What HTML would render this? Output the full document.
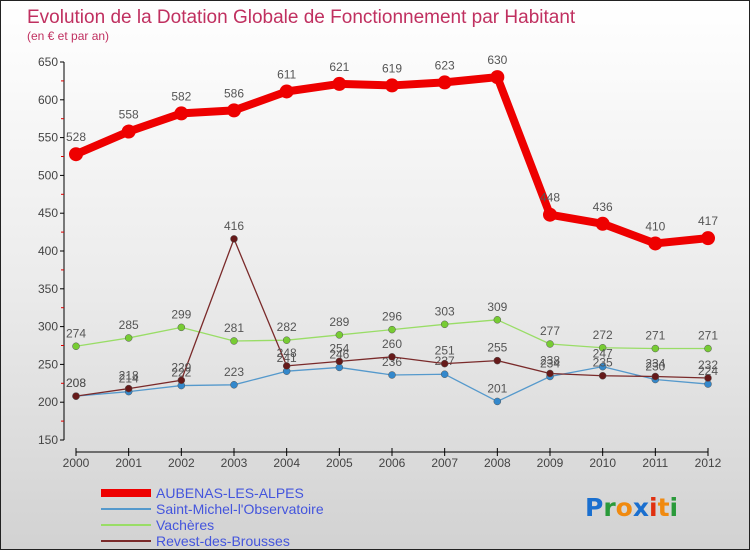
<!DOCTYPE html>
<html><head><meta charset="utf-8">
<style>
body{margin:0;width:750px;height:550px;overflow:hidden;font-family:"Liberation Sans","DejaVu Sans",sans-serif;}
#wrap{position:relative;width:748px;height:548px;border:1px solid #222;background:linear-gradient(#ffffff 0%,#ececec 50%,#d2d2d2 100%);}
</style></head>
<body>
<div id="wrap">
<svg id="chart" width="748" height="548" xmlns="http://www.w3.org/2000/svg">
<text x="26" y="22" font-size="19" fill="#c03060">Evolution de la Dotation Globale de Fonctionnement par Habitant</text>
<text x="26" y="39" font-size="12" fill="#c03060">(en € et par an)</text>
<g id="axes"></g>
<g id="series"></g>
<g id="legend"></g>
<text x="584" y="515" font-size="25" font-family="'DejaVu Sans',sans-serif" font-weight="bold"><tspan fill="#1a6fcf">P</tspan><tspan fill="#2a9a3a">r</tspan><tspan fill="#f08a10">o</tspan><tspan fill="#1a6fcf">x</tspan><tspan fill="#e03010">i</tspan><tspan fill="#f08a10">t</tspan><tspan fill="#2a9a3a">i</tspan></text>
</svg>
</div>
<script>
const years=["2000","2001","2002","2003","2004","2005","2006","2007","2008","2009","2010","2011","2012"];
const aubenas=[528,558,582,586,611,621,619,623,630,448,436,410,417];
const saintMichel=[208,214,222,223,241,246,236,237,201,234,247,230,224];
const vacheres=[274,285,299,281,282,289,296,303,309,277,272,271,271];
const revest=[208,218,229,416,248,254,260,251,255,238,235,234,232];
const yTicks=[150,200,250,300,350,400,450,500,550,600,650];
const seriesNames=["AUBENAS-LES-ALPES","Saint-Michel-l'Observatoire","Vachères","Revest-des-Brousses"];

const NS="http://www.w3.org/2000/svg";
function xPos(i){return 75+i*(707-75)/(years.length-1);}
function yPos(v){return 439-(v-150)*(439-61)/500;}
function mk(tag,attrs,parent){const e=document.createElementNS(NS,tag);for(const k in attrs)e.setAttribute(k,attrs[k]);parent.appendChild(e);return e;}
const axes=document.getElementById('axes');
let e=mk('line',{x1:63,y1:61,x2:63,y2:439,stroke:'#000'},axes);


e=mk('line',{x1:75,y1:451,x2:707,y2:451,stroke:'#000'},axes);


yTicks.forEach((t,i)=>{
  const y=yPos(t);
  mk('line',{x1:59,y1:y,x2:63,y2:y,stroke:'#000'},axes);
  if(i<yTicks.length-1){mk('line',{x1:60,y1:yPos(t+25),x2:63,y2:yPos(t+25),stroke:'#d00'},axes);}
  const tx=mk('text',{x:57,y:y+4,'font-size':12,fill:'#444','text-anchor':'end'},axes);
  tx.textContent=t;
  
  
});
years.forEach((yr,i)=>{
  const x=xPos(i);
  mk('line',{x1:x,y1:447,x2:x,y2:455,stroke:'#000'},axes);
  const tx=mk('text',{x:x,y:466,'font-size':12,fill:'#444','text-anchor':'middle'},axes);
  tx.textContent=yr;
  
  
});
const ser=document.getElementById('series');
const defs=[
 {d:vacheres,c:'#99dd66',fill:'#77cc33',w:1.3,r:3.5,name:'series-vacheres'},
 {d:saintMichel,c:'#5599cc',fill:'#3388cc',w:1.3,r:3.5,name:'series-saint-michel'},
 {d:revest,c:'#7a2a2a',fill:'#661a1a',w:1.3,r:3.5,name:'series-revest'},
 {d:aubenas,c:'#ee0000',fill:'#ee0000',w:8,r:7,name:'series-aubenas'}
];
defs.forEach(s=>{
  const g=mk('g',{},ser);
  
  
  const pts=s.d.map((v,i)=>xPos(i)+','+yPos(v)).join(' ');
  mk('polyline',{points:pts,fill:'none',stroke:s.c,'stroke-width':s.w,'stroke-linejoin':'round'},g);
  s.d.forEach((v,i)=>{
    const c=mk('circle',{cx:xPos(i),cy:yPos(v),r:s.r,fill:s.fill,stroke:s.r>5?'none':'#555','stroke-width':0.5},g);
    
    
    const t=mk('text',{x:xPos(i),y:yPos(v)-(s.r>5?13:9),'font-size':12,fill:'#555','text-anchor':'middle'},g);
    t.textContent=v;
    
    
  });
});
const leg=document.getElementById('legend');
const legStyle=[{c:'#ee0000',w:8},{c:'#5599cc',w:2},{c:'#99dd66',w:2},{c:'#7a2a2a',w:2}];
seriesNames.forEach((n,i)=>{
  const y=492+i*16;
  const g=mk('g',{},leg);
  
  
  mk('line',{x1:100,y1:y,x2:150,y2:y,stroke:legStyle[i].c,'stroke-width':legStyle[i].w},g);
  const t=mk('text',{x:155,y:y+5,'font-size':14,fill:'#4455dd'},g);
  t.textContent=n;
});
</script>
</body></html>
